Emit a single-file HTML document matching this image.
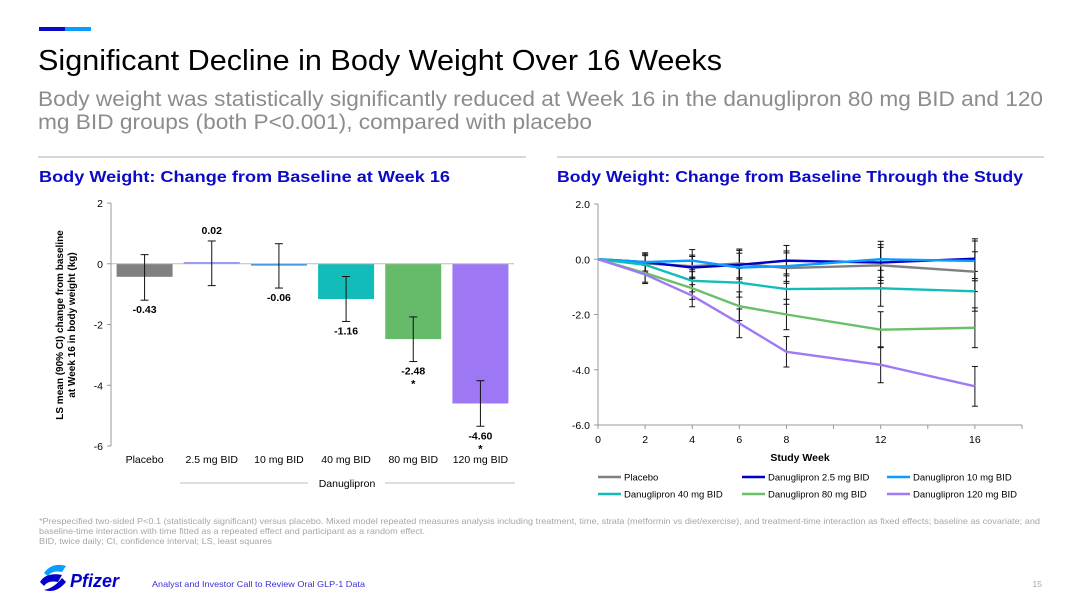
<!DOCTYPE html>
<html><head><meta charset="utf-8"><style>
html,body{margin:0;padding:0;background:#fff;}
svg{display:block;font-family:"Liberation Sans",Arial,sans-serif;}
</style></head><body>
<svg id="page" width="1080" height="603" viewBox="0 0 1080 603">
<rect x="39" y="27" width="26" height="4" fill="#0a0ac8"/>
<rect x="65" y="27" width="26" height="4" fill="#0a9cff"/>
<text x="38" y="70" font-size="29" textLength="684" lengthAdjust="spacingAndGlyphs" fill="#000">Significant Decline in Body Weight Over 16 Weeks</text>
<text x="38" y="106" font-size="21" textLength="1005" lengthAdjust="spacingAndGlyphs" fill="#8c8c8c">Body weight was statistically significantly reduced at Week 16 in the danuglipron 80 mg BID and 120</text>
<text x="38" y="129" font-size="21" textLength="554" lengthAdjust="spacingAndGlyphs" fill="#8c8c8c">mg BID groups (both P&lt;0.001), compared with placebo</text>
<line x1="38" y1="157" x2="526" y2="157" stroke="#c8c8c8" stroke-width="1.5"/>
<line x1="557" y1="157" x2="1044" y2="157" stroke="#c8c8c8" stroke-width="1.5"/>
<text x="39" y="182" font-size="16" font-weight="bold" textLength="411" lengthAdjust="spacingAndGlyphs" fill="#0a0ac8">Body Weight: Change from Baseline at Week 16</text>
<text x="557" y="182" font-size="16" font-weight="bold" textLength="466" lengthAdjust="spacingAndGlyphs" fill="#0a0ac8">Body Weight: Change from Baseline Through the Study</text>
<g id="bar"></g>
<g id="line"></g>
<g font-size="8.3" fill="#a6a6a6">
<text x="39" y="524" textLength="1001" lengthAdjust="spacingAndGlyphs">*Prespecified two-sided P&lt;0.1 (statistically significant) versus placebo. Mixed model repeated measures analysis including treatment, time, strata (metformin vs diet/exercise), and treatment-time interaction as fixed effects; baseline as covariate; and</text>
<text x="39" y="534" textLength="386" lengthAdjust="spacingAndGlyphs">baseline-time interaction with time fitted as a repeated effect and participant as a random effect.</text>
<text x="39" y="544" textLength="233" lengthAdjust="spacingAndGlyphs">BID, twice daily; CI, confidence interval; LS, least squares</text>
</g>
<g>
<path d="M44 573 Q52 562 66 566 L62 572 Q52 570 48 576 Z" fill="#0a9cff"/>
<path d="M40 582 Q46 572 62 575 L58 582 Q48 580 44 586 Z M44 590 Q56 594 66 582 L62 578 Q54 588 44 590 Z" fill="#0000c9"/>
<text x="70" y="587" font-size="18" font-style="italic" font-weight="bold" fill="#0000c9">Pfizer</text>
</g>
<text x="152" y="587" font-size="8.5" textLength="213" lengthAdjust="spacingAndGlyphs" fill="#3a2fd6">Analyst and Investor Call to Review Oral GLP-1 Data</text>
<text x="1042" y="587" font-size="8.5" fill="#a6a6a6" text-anchor="end">15</text>
</svg>
<script>
const NS='http://www.w3.org/2000/svg';
function mk(tag,attrs,parent,txt){const e=document.createElementNS(NS,tag);for(const k in attrs)e.setAttribute(k,attrs[k]);if(txt!==undefined)e.textContent=txt;parent.appendChild(e);return e;}

// ---- Bar chart data ----
const barCategories=['Placebo','2.5 mg BID','10 mg BID','40 mg BID','80 mg BID','120 mg BID'];
const barValues=[-0.43,0.02,-0.06,-1.16,-2.48,-4.60];
const barLower=[-1.2,-0.72,-0.8,-1.9,-3.22,-5.35];
const barUpper=[0.3,0.75,0.66,-0.42,-1.75,-3.85];
const barSignificant=[false,false,false,false,true,true];
const barYTicks=[2,0,-2,-4,-6];
const barColors=['#808080','#5b55e8','#1e8ff5','#12bdb9','#66bb6a','#9e77f5'];

const bg=document.getElementById('bar');
const bx0=111,bx1=514,byTop=203,byBot=446,bMax=2,bMin=-6;
const by=v=>byTop+(bMax-v)/(bMax-bMin)*(byBot-byTop);
const bw=(bx1-bx0)/barCategories.length;
const bcx=i=>bx0+bw*(i+0.5);
barYTicks.forEach(t=>{
  const l=mk('line',{x1:bx0-4,x2:bx0,y1:by(t),y2:by(t),stroke:'#999'},bg);
  
  
  const tx=mk('text',{x:bx0-8,y:by(t)+4,'font-size':10.5,'text-anchor':'end',fill:'#000'},bg,String(t));
  
  
});
const ya=mk('line',{x1:bx0,x2:bx0,y1:byTop,y2:byBot,stroke:'#999'},bg);


barValues.forEach((v,i)=>{
  const y0=by(0),y1=by(v);
  let h=Math.abs(y1-y0); if(h<1.5)h=1.5;
  const r=mk('rect',{x:bcx(i)-28,y:Math.min(y0,y1)-(Math.abs(y1-y0)<1.5?0.75:0),width:56,height:h,fill:barColors[i]},bg);
  
  
});
const xa=mk('line',{x1:bx0,x2:bx1,y1:by(0),y2:by(0),stroke:'#bbb'},bg);


barValues.forEach((v,i)=>{
  const c=bcx(i),g=mk('g',{stroke:'#111','stroke-width':1},bg);
  
  
  mk('line',{x1:c,x2:c,y1:by(barUpper[i]),y2:by(barLower[i])},g);
  mk('line',{x1:c-4,x2:c+4,y1:by(barUpper[i]),y2:by(barUpper[i])},g);
  mk('line',{x1:c-4,x2:c+4,y1:by(barLower[i]),y2:by(barLower[i])},g);
  const ly=v>=0?by(barUpper[i])-7:by(barLower[i])+13;
  const t=mk('text',{x:c,y:ly,'font-size':10.5,'font-weight':'bold','text-anchor':'middle',fill:'#000'},bg,v.toFixed(2));
  
  
  if(barSignificant[i]){
    const s=mk('text',{x:c,y:ly+13,'font-size':11,'font-weight':'bold','text-anchor':'middle',fill:'#000'},bg,'*');
    
    
  }
  const cl=mk('text',{x:c,y:463,'font-size':10.5,'text-anchor':'middle',fill:'#000'},bg,barCategories[i]);
  
  
});
const gl1=mk('line',{x1:180,x2:308,y1:483,y2:483,stroke:'#ccc','stroke-width':1.2},bg);


const gl2=mk('line',{x1:385,x2:515,y1:483,y2:483,stroke:'#ccc','stroke-width':1.2},bg);


const gt=mk('text',{x:347,y:487,'font-size':10.5,'text-anchor':'middle',fill:'#000'},bg,'Danuglipron');


const yt=mk('text',{transform:'translate(63,325) rotate(-90)','font-size':10,'font-weight':'bold','text-anchor':'middle',fill:'#000'},bg);


mk('tspan',{x:0,y:0},yt,'LS mean (90% CI) change from baseline');
mk('tspan',{x:0,y:12},yt,'at Week 16 in body weight (kg)');

// ---- Line chart data ----
const weeks=[0,2,4,6,8,12,16];
const seriesNames=['Placebo','Danuglipron 2.5 mg BID','Danuglipron 10 mg BID','Danuglipron 40 mg BID','Danuglipron 80 mg BID','Danuglipron 120 mg BID'];
const placebo=[0,-0.15,-0.25,-0.15,-0.32,-0.22,-0.45];
const dose2p5=[0,-0.1,-0.3,-0.2,-0.05,-0.12,0.02];
const dose10=[0,-0.1,-0.05,-0.3,-0.25,0,-0.06];
const dose40=[0,-0.2,-0.78,-0.85,-1.08,-1.05,-1.16];
const dose80=[0,-0.5,-1.05,-1.7,-2.0,-2.55,-2.48];
const dose120=[0,-0.55,-1.32,-2.32,-3.35,-3.82,-4.6];
const ciHalf=[0,0.33,0.4,0.52,0.55,0.65,0.72];
const lineYTicks=[2,0,-2,-4,-6];
const lineXTicks=[0,2,4,6,8,12,16];
const lineColors=['#808080','#0000c0','#0a9cff','#12bdb9','#6abf69','#a07af5'];
const allSeries=[placebo,dose2p5,dose10,dose40,dose80,dose120];

const lg=document.getElementById('line');
const lx0=598,lx1=1022,ly0=204,ly1=425,xMax=18;
const lx=w=>lx0+w/xMax*(lx1-lx0);
const ly=v=>ly0+(2-v)/8*(ly1-ly0);
lineYTicks.forEach(t=>{
  const l=mk('line',{x1:lx0-4,x2:lx0,y1:ly(t),y2:ly(t),stroke:'#999'},lg);
  
  
  const tx=mk('text',{x:lx0-8,y:ly(t)+4,'font-size':10.5,'text-anchor':'end',fill:'#000'},lg,t.toFixed(1));
  
  
});
for(let w=0;w<=xMax;w+=2){
  const l=mk('line',{x1:lx(w),x2:lx(w),y1:ly1,y2:ly1+4,stroke:'#999'},lg);
  
  
}
lineXTicks.forEach(w=>{
  const t=mk('text',{x:lx(w),y:443,'font-size':10.5,'text-anchor':'middle',fill:'#000'},lg,String(w));
  
  
});
const lya=mk('line',{x1:lx0,x2:lx0,y1:ly0,y2:ly1,stroke:'#999'},lg);


const lxa=mk('line',{x1:lx0,x2:lx1,y1:ly1,y2:ly1,stroke:'#999'},lg);


const sw=mk('text',{x:800,y:461,'font-size':10.5,'font-weight':'bold','text-anchor':'middle',fill:'#000'},lg,'Study Week');


allSeries.forEach((s,k)=>{
  const g=mk('g',{stroke:'#111','stroke-width':1},lg);
  
  
  s.forEach((v,i)=>{ if(!ciHalf[i])return;
    const x=lx(weeks[i]);
    mk('line',{x1:x,x2:x,y1:ly(v+ciHalf[i]),y2:ly(v-ciHalf[i])},g);
    mk('line',{x1:x-3,x2:x+3,y1:ly(v+ciHalf[i]),y2:ly(v+ciHalf[i])},g);
    mk('line',{x1:x-3,x2:x+3,y1:ly(v-ciHalf[i]),y2:ly(v-ciHalf[i])},g);
  });
});
allSeries.forEach((s,k)=>{
  const p=mk('polyline',{points:s.map((v,i)=>lx(weeks[i])+','+ly(v)).join(' '),fill:'none',stroke:lineColors[k],'stroke-width':2.4},lg);
  
  
});
const legX=[598,742,887],legY=[477,494];
seriesNames.forEach((n,k)=>{
  const x=legX[k%3],y=legY[Math.floor(k/3)];
  const g=mk('g',{},lg);
  
  
  mk('line',{x1:x,x2:x+23,y1:y,y2:y,stroke:lineColors[k],'stroke-width':2.4},g);
  mk('text',{x:x+26,y:y+3.5,'font-size':9.5,fill:'#000'},g,n);
});
</script>
</body></html>
